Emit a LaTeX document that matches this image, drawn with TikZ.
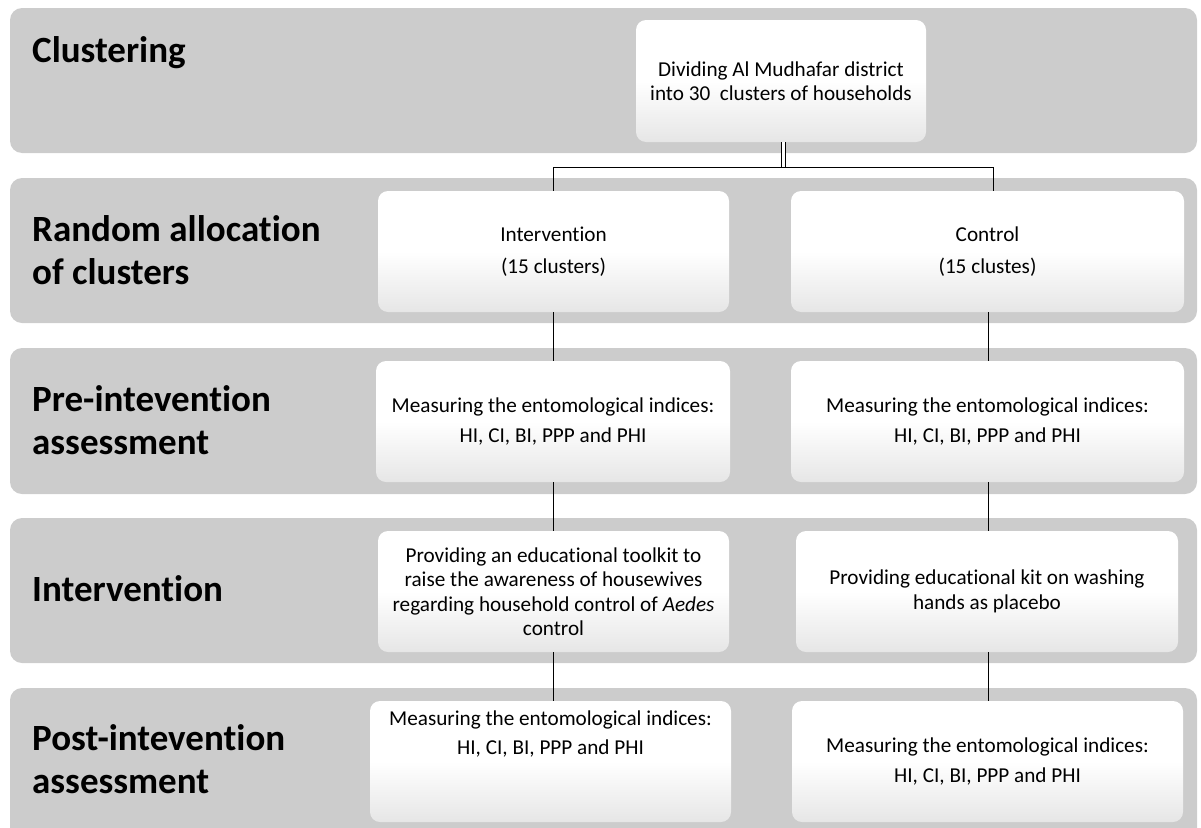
\documentclass[tikz,border=0pt]{standalone}
\usepackage{fontspec}
\setmainfont{Carlito}[Ligatures=NoCommon]
\definecolor{bandgray}{HTML}{CCCCCC}
\definecolor{boxbottom}{HTML}{E6E6E6}
\begin{document}
\begin{tikzpicture}[x=1pt,y=-1pt,
  band/.style={fill=bandgray, rounded corners=12pt},
  box/.style={rounded corners=10pt, top color=white, bottom color=boxbottom, middle color=white,
    align=center, font=\fontsize{21.2}{24.5}\selectfont, inner sep=0pt},
  boxtext/.style={align=center, font=\fontsize{21.2}{24.5}\selectfont, inner sep=0pt},
  lab/.style={anchor=west, align=left, font=\fontsize{37}{43}\selectfont\bfseries, inner sep=0pt},
  conn/.style={draw=black, line width=1pt},
  dbl/.style={draw=black, line width=0.9pt, double distance=3.5pt}]
\useasboundingbox (0,0) rectangle (1201,827);
\clip (0,0) rectangle (1201,827);
% bands
\path[band] (10,8) rectangle (1197,153);
\path[band] (10,178) rectangle (1197,323);
\path[band] (10,348) rectangle (1197,494);
\path[band] (10,518) rectangle (1197,663);
\path[band] (10,688) rectangle (1197,845);
% labels
\node[lab] (l1) at (32,53) {Clustering};
\node[lab] (l2) at (32,250) {Random allocation\\of clusters};
\node[lab] (l3) at (32,420) {Pre-intevention\\assessment};
\node[lab] (l4) at (32,589) {Intervention};
\node[lab] (l5) at (32,759) {Post-intevention\\assessment};
% boxes
\node[box, minimum width=290pt, minimum height=122pt] (top) at (781,81)
  {Dividing Al Mudhafar district\\into 30\ \ clusters of households};
\node[box, minimum width=351pt, minimum height=121pt] (intA) at (553.5,251.5)
  {Intervention\\[8pt](15 clusters)};
\node[box, minimum width=393pt, minimum height=121pt] (conA) at (987.5,251.5)
  {Control\\[8pt](15 clustes)};
\node[box, minimum width=354pt, minimum height=121pt] (intB) at (553,421.5)
  {Measuring the entomological indices:\\[6pt]HI, CI, BI, PPP and PHI};
\node[box, minimum width=393pt, minimum height=121pt] (conB) at (987.5,421.5)
  {Measuring the entomological indices:\\[6pt]HI, CI, BI, PPP and PHI};
\node[box, minimum width=351pt, minimum height=121pt] (intC) at (553.5,591.5)
  {Providing an educational toolkit to\\raise the awareness of housewives\\regarding household control of \textit{Aedes}\\control};
\node[box, minimum width=382pt, minimum height=121pt] (conC) at (987,591.5)
  {Providing educational kit on washing\\hands as placebo};
\node[box, minimum width=361pt, minimum height=121pt] (intD) at (550.5,761.5) {};
\node[boxtext] (intDt) at (550.5,734)
  {Measuring the entomological indices:\\[5pt]HI, CI, BI, PPP and PHI};
\node[box, minimum width=391pt, minimum height=121pt] (conD) at (987.5,761.5)
  {Measuring the entomological indices:\\[6pt]HI, CI, BI, PPP and PHI};
% connectors
\coordinate (hub) at (783.5,167);
\coordinate (hl) at (553,167);
\coordinate (hr) at (993,167);
\draw[dbl] (top.south -| hub) -- (hub);
\draw[conn] (hl) -- (hr);
\draw[conn] (hl) -- (hl |- intA.north);
\draw[conn] (hr) -- (hr |- conA.north);
\draw[conn] (intA.south -| hl) -- (intB.north -| hl);
\draw[conn] (intB.south -| hl) -- (intC.north -| hl);
\draw[conn] (intC.south -| hl) -- (intD.north -| hl);
\coordinate (rx) at (988,0);
\draw[conn] (conA.south -| rx) -- (conB.north -| rx);
\draw[conn] (conB.south -| rx) -- (conC.north -| rx);
\draw[conn] (conC.south -| rx) -- (conD.north -| rx);
\end{tikzpicture}
\end{document}
